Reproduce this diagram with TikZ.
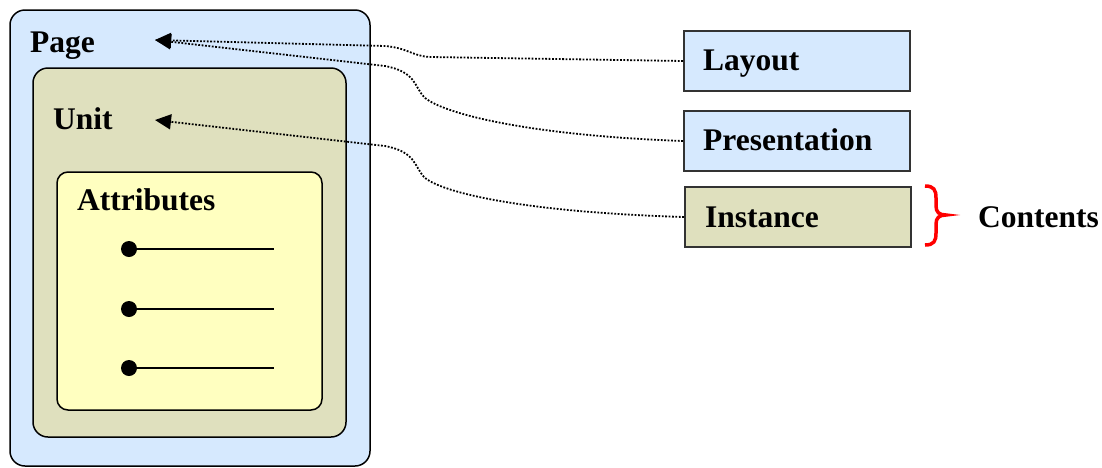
\documentclass[tikz,border=0pt]{standalone}
\usepackage{fontspec}
\setmainfont{Liberation Serif}
\usetikzlibrary{arrows.meta}
\definecolor{pageblue}{HTML}{D6E9FE}
\definecolor{unitolive}{HTML}{DFE0BE}
\definecolor{attryellow}{HTML}{FFFFC0}
\tikzset{
  lbl/.style={font=\fontsize{31.5}{36}\selectfont\bfseries, anchor=base west, inner sep=0pt},
  roundbox/.style={draw=black, line width=1.5pt, rounded corners=#1},
  sidebox/.style={draw=black!80, line width=2pt, minimum width=226pt, minimum height=60pt, anchor=north west, inner sep=0pt},
  dotline/.style={line width=1.8pt, dash pattern=on 1.8pt off 1.6pt},
  arr/.style={-{Triangle[length=16pt,width=15pt]}},
  bullet/.style={circle, fill=black, inner sep=0pt, minimum size=16pt},
}
\begin{document}
\begin{tikzpicture}[x=1pt,y=-1pt]
\useasboundingbox (0,0) rectangle (1102,467);
% nested boxes
\draw[roundbox=15pt, fill=pageblue] (10,10) rectangle (370,466);
\draw[roundbox=15pt, fill=unitolive] (33,68) rectangle (346,437);
\draw[roundbox=11pt, fill=attryellow] (57,172) rectangle (322,410);
\node[lbl] (page) at (30,52) {Page};
\node[lbl] (unit) at (53,129) {Unit};
\node[lbl] (attr) at (77,210) {Attributes};
\coordinate (pagetip) at (155,40);
\coordinate (unittip) at (155,120);
% attribute bullets
\foreach \i/\y in {1/249,2/309,3/368}{
  \node[bullet] (b\i) at (129,\y) {};
  \coordinate (e\i) at (274,\y);
  \draw[line width=1.5pt] (b\i.center) -- (e\i);
}
% side boxes
\node[sidebox, fill=pageblue] (layout) at (683,30) {};
\node[lbl] at (703,70) {Layout};
\node[sidebox, fill=pageblue] (pres) at (683,110) {};
\node[lbl] at (703,150) {Presentation};
\node[sidebox, fill=unitolive] (inst) at (684,186) {};
\node[lbl] at (705,227) {Instance};
% connectors
\draw[dotline, arr] (layout.west) -- (430,57) .. controls (412,56) and (408,48) .. (385,46) -- (pagetip);
\draw[dotline, arr] (pres.west) .. controls (520,135) and (440,112) .. (424,97) .. controls (414,86) and (416,72) .. (385,66) -- (pagetip);
\draw[dotline, arr] (inst.west) .. controls (520,212) and (440,192) .. (424,177) .. controls (414,166) and (416,152) .. (385,146) -- (unittip);
% brace
\coordinate (bt) at (925,186);
\coordinate (bb) at (925,245);
\coordinate (btip) at (946,215);
\draw[red, line width=3.5pt] (bt) .. controls (934,186) and (936,190) .. (936,198) -- (936,206)
  .. controls (936,212) and (939,215) .. (btip)
  .. controls (939,215) and (936,218) .. (936,224) -- (936,233)
  .. controls (936,241) and (934,245) .. (bb);
\node[lbl] (contents) at (978,227) {Contents};
\end{tikzpicture}
\end{document}
